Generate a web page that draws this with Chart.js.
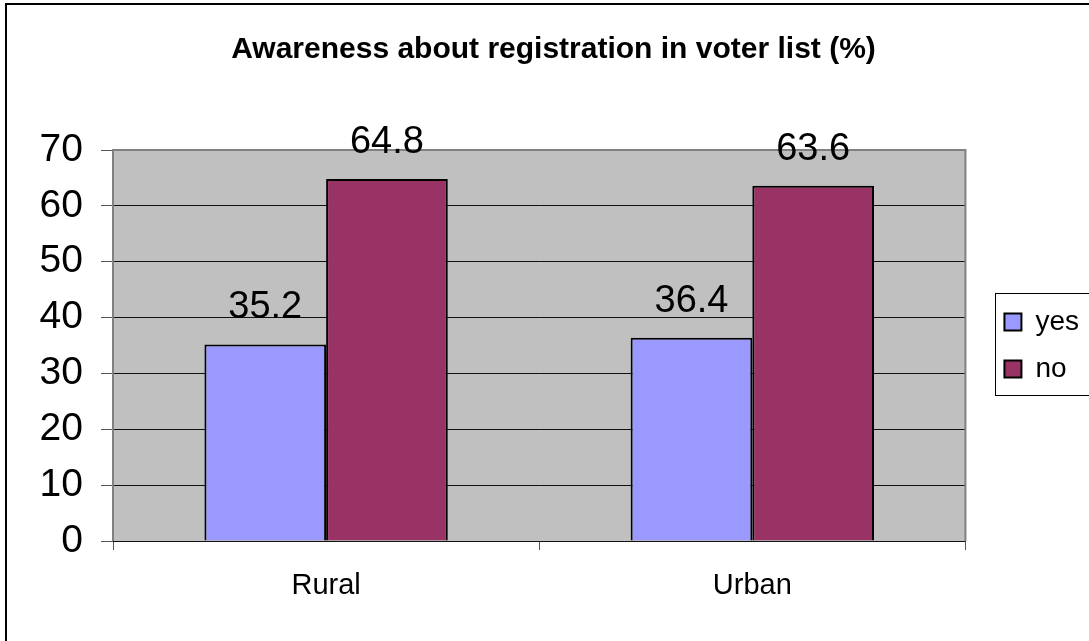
<!DOCTYPE html>
<html>
<head>
<meta charset="utf-8">
<script src="https://cdn.jsdelivr.net/npm/chart.js@4"></script>
<style>
    html, body { margin: 0; padding: 0; background: #fff; }
    #wrap { width: 1089px; height: 641px; position: relative; }
</style>
</head>
<body>
<div id="wrap"><canvas id="chart" width="1089" height="641"></canvas></div>
<script>
const categories = ['Rural', 'Urban'];
const seriesNames = ['yes', 'no'];
const yesValues = [35.2, 36.4];
const noValues = [64.8, 63.6];
const yTicks = [0, 10, 20, 30, 40, 50, 60, 70];

const FONT = "'Liberation Sans', Arial, sans-serif";

// gray plot area, its border, and the outer frame
const frame = {
    id: 'frame',
    beforeDraw(chart) {
        const { ctx, chartArea: a } = chart;
        const lg = chart.legend;
        // keep legend items centred on the plot, not on the whole canvas
        chart.$legendShift = ((a.top - lg.top) + (a.bottom - lg.bottom)) / 2;
        lg.top = a.top;
        lg.bottom = a.bottom;
        ctx.save();
        ctx.fillStyle = '#fff';
        ctx.fillRect(0, 0, chart.width, chart.height);
        ctx.fillStyle = '#c0c0c0';
        ctx.fillRect(a.left, a.top, a.right - a.left, a.bottom - a.top);
        ctx.restore();
    },
    beforeDatasetsDraw(chart) {
        const { ctx, chartArea: a } = chart;
        ctx.save();
        ctx.strokeStyle = '#808080';
        ctx.lineWidth = 2;
        ctx.beginPath();
        ctx.moveTo(a.left, a.bottom);
        ctx.lineTo(a.left, a.top);
        ctx.lineTo(a.right, a.top);
        ctx.lineTo(a.right, a.bottom);
        ctx.stroke();
        ctx.restore();
    },
    afterDraw(chart) {
        const { ctx } = chart;
        ctx.save();
        ctx.strokeStyle = '#000';
        ctx.lineWidth = 2;
        ctx.strokeRect(6, 4, chart.width + 20, chart.height + 20);
        // legend frame
        const hb = chart.legend.legendHitBoxes;
        if (hb && hb.length) {
            const shift = chart.$legendShift || 0;
            const c0 = hb[0].top + hb[0].height / 2 + shift;
            const c1 = hb[hb.length - 1].top + hb[hb.length - 1].height / 2 + shift;
            const top = c0 - 29;
            const bottom = c1 + 26;
            ctx.lineWidth = 1;
            ctx.strokeRect(Math.round(chart.legend.left + 10) + 0.5, Math.round(top) + 0.5, 200, Math.round(bottom - top));
        }
        ctx.restore();
    }
};

// value labels above bars
const valueLabels = {
    id: 'valueLabels',
    afterDatasetsDraw(chart) {
        const { ctx } = chart;
        ctx.save();
        ctx.font = '38px ' + FONT;
        ctx.fillStyle = '#000';
        ctx.textAlign = 'center';
        ctx.textBaseline = 'alphabetic';
        chart.data.datasets.forEach((ds, i) => {
            chart.getDatasetMeta(i).data.forEach((bar, j) => {
                ctx.fillText(String(ds.data[j]), bar.x, bar.y - 26);
            });
        });
        ctx.restore();
    }
};

new Chart(document.getElementById('chart'), {
    type: 'bar',
    data: {
        labels: categories,
        datasets: [
            { label: seriesNames[0], data: yesValues, backgroundColor: '#9999ff', borderColor: '#000', borderWidth: 2 },
            { label: seriesNames[1], data: noValues, backgroundColor: '#993366', borderColor: '#000', borderWidth: 2 }
        ]
    },
    options: {
        responsive: false,
        animation: false,
        devicePixelRatio: 1,
        layout: { padding: { left: 18, right: 0, top: 0, bottom: 0 } },
        datasets: { bar: { categoryPercentage: 0.571, barPercentage: 1 } },
        plugins: {
            tooltip: { enabled: false },
            title: {
                display: true,
                text: 'Awareness about registration in voter list (%)',
                color: '#000',
                font: { family: FONT, size: 30, weight: 'bold' },
                padding: { top: 32, bottom: 82 }
            },
            legend: {
                position: 'right',
                labels: {
                    color: '#000',
                    font: { family: FONT, size: 28 },
                    boxWidth: 17,
                    boxHeight: 17,
                    padding: 19
                }
            }
        },
        scales: {
            x: {
                grid: { display: true, drawOnChartArea: false, offset: true, tickLength: 9, color: '#555', tickWidth: 1 },
                border: { display: false },
                ticks: { color: '#000', font: { family: FONT, size: 29 }, padding: 19 },
                afterFit: s => { s.height = 100; }
            },
            y: {
                min: 0,
                max: 70,
                afterBuildTicks: s => { s.ticks = yTicks.map(v => ({ value: v })); },
                grid: {
                    color: c => (c.tick && c.tick.value === 70 ? '#808080' : '#111'),
                    tickColor: '#555',
                    tickLength: 12,
                    lineWidth: 1
                },
                border: { display: false },
                ticks: { color: '#000', font: { family: FONT, size: 39 }, padding: 18 },
                afterFit: s => { s.width = 95; }
            },
            gap: {
                position: 'right',
                display: true,
                grid: { display: false },
                border: { display: false },
                ticks: { display: false },
                afterFit: s => { s.width = 20; }
            }
        }
    },
    plugins: [frame, valueLabels]
});
</script>
</body>
</html>
